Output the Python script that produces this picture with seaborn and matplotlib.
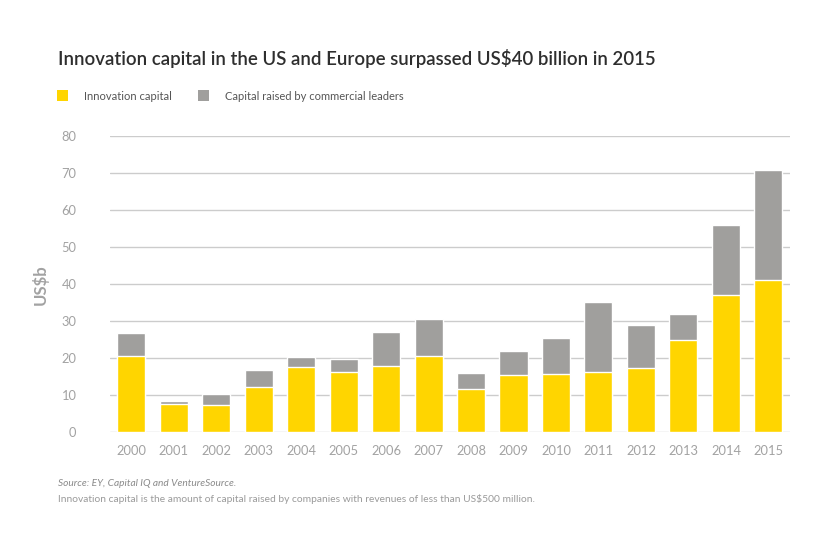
import matplotlib
matplotlib.use("Agg")
import matplotlib.pyplot as plt
import seaborn as sns
import pandas as pd
from matplotlib.patches import Patch

years = [str(y) for y in range(2000, 2016)]
innovation = [20.6, 7.7, 7.4, 12.3, 17.6, 16.3, 17.9, 20.6, 11.7, 15.5, 15.8, 16.3, 17.4, 24.9, 37.1, 41.1]
commercial = [6.2, 0.8, 3.0, 4.5, 2.7, 3.5, 9.2, 10.0, 4.3, 6.5, 9.7, 18.9, 11.6, 7.1, 18.9, 29.7]
yticks = [0, 10, 20, 30, 40, 50, 60, 70, 80]

df = pd.DataFrame({"year": years, "innovation": innovation, "commercial": commercial})
df["total"] = df["innovation"] + df["commercial"]

YELLOW = "#FFD500"
GREY = "#A09F9D"
TICK = "#A2A2A2"

sns.set_theme(style="white")
plt.rcParams["font.family"] = ["Lato", "DejaVu Sans"]

fig = plt.figure(figsize=(8.2, 5.45), dpi=100)
ax = fig.add_axes([0.134, 0.207, 0.829, 0.543])

sns.barplot(data=df, x="year", y="total", color=GREY, width=0.66, ax=ax, saturation=1)
sns.barplot(data=df, x="year", y="innovation", color=YELLOW, width=0.66, ax=ax, saturation=1)

ax.set_xlim(-0.5, len(years) - 0.5)
ax.set_ylim(0, 80)
ax.set_yticks(yticks)
ax.yaxis.grid(True, color="#CCCCCC", linewidth=1)
ax.set_axisbelow(True)
for s in ax.spines.values():
    s.set_visible(False)
ax.tick_params(axis="both", length=0, labelsize=9.3, labelcolor=TICK)
ax.tick_params(axis="x", pad=9)
ax.tick_params(axis="y", pad=24)
ax.set_xlabel("")
ax.set_ylabel("US$b", fontsize=12, fontweight="bold", color=TICK, labelpad=9)

fig.text(0.071, 0.893, "Innovation capital in the US and Europe surpassed US$40 billion in 2015",
         fontsize=13.4, color="#2E2E2E", va="center", ha="left", fontweight="semibold")

handles = [Patch(facecolor=YELLOW, edgecolor="none", label="Innovation capital"),
           Patch(facecolor=GREY, edgecolor="none", label="Capital raised by commercial leaders")]
fig.legend(handles=handles, loc="center left", bbox_to_anchor=(0.0695, 0.824), ncol=2,
           frameon=False, fontsize=8, handlelength=1.0, handleheight=1.15,
           handletextpad=1.45, columnspacing=2.3, labelcolor="#555555",
           borderpad=0, borderaxespad=0)

fig.text(0.071, 0.112, "Source: EY, Capital IQ and VentureSource.", fontsize=7.3,
         style="italic", color="#8A8A8A", va="center")
fig.text(0.071, 0.084, "Innovation capital is the amount of capital raised by companies with revenues of less than US$500 million.",
         fontsize=7.4, color="#9A9A9A", va="center")

fig.savefig("out.png", dpi=100)
